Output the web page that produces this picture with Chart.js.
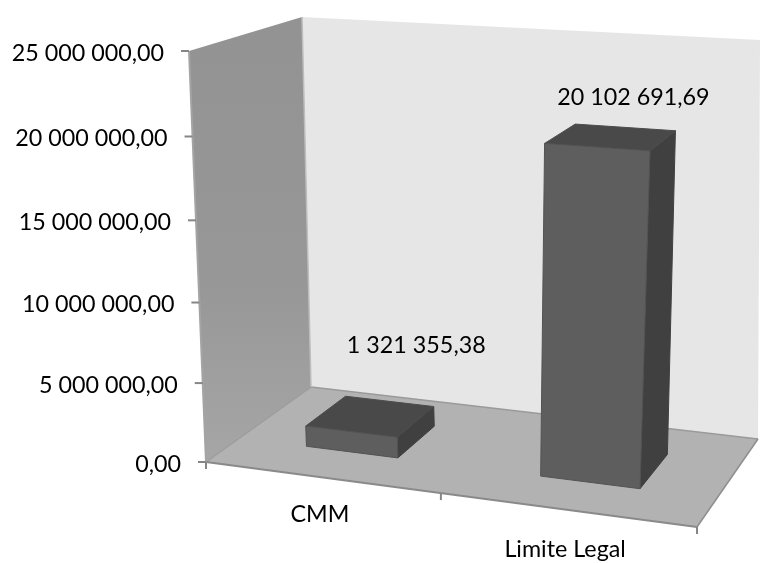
<!DOCTYPE html>
<html>
<head>
<meta charset="utf-8">
<style>html,body{margin:0;padding:0;background:#fff}canvas{display:block}</style>
<script src="https://cdn.jsdelivr.net/npm/chart.js@4"></script>
</head>
<body>
<canvas id="c" width="760" height="563"></canvas>
<script>
// Chart values
const categories = ["CMM", "Limite Legal"];
const values = [1321355.38, 20102691.69];
const valueLabels = ["1 321 355,38", "20 102 691,69"];
const tickValues = [0, 5000000, 10000000, 15000000, 20000000, 25000000];
const tickLabels = ["0,00", "5 000 000,00", "10 000 000,00", "15 000 000,00", "20 000 000,00", "25 000 000,00"];

// Box corners of the 3D plot: floor and ceiling, front/back, left/right
const floorQuad = [[206,462],[697,527],[758,439],[311,387]];
const topQuad   = [[189,51],[707,83],[760,40],[302,17]];
const depthNear = 0.3, depthFar = 0.7;
const FONT = '23.3px Lato, "Open Sans", sans-serif';
let area = null;

// Projective map of the unit square onto a quad
function squareToQuad(q){
  const [p0,p1,p2,p3] = q;
  const dx1=p1[0]-p2[0], dx2=p3[0]-p2[0], sx=p0[0]-p1[0]+p2[0]-p3[0];
  const dy1=p1[1]-p2[1], dy2=p3[1]-p2[1], sy=p0[1]-p1[1]+p2[1]-p3[1];
  const den=dx1*dy2-dx2*dy1;
  const g=(sx*dy2-dx2*sy)/den, h=(dx1*sy-sx*dy1)/den;
  const a=p1[0]-p0[0]+g*p1[0], b=p3[0]-p0[0]+h*p3[0];
  const d=p1[1]-p0[1]+g*p1[1], e=p3[1]-p0[1]+h*p3[1];
  return (u,w)=>{const k=g*u+h*w+1;return [(a*u+b*w+p0[0])/k,(d*u+e*w+p0[1])/k];};
}
const onFloor = squareToQuad(floorQuad), onTop = squareToQuad(topQuad);

// u: across the categories, v: height 0..1, w: depth
function project(u,v,w){
  // the right half of the ceiling fans outward, so tall bars lean to the right
  const ut = u>0.5 ? u+0.4*(u-0.5)*(1-u) : u;
  const f=onFloor(u,w), t=onTop(ut,w), s=v*(0.95+0.05*v);
  return [f[0]+(t[0]-f[0])*s, f[1]+(t[1]-f[1])*s];
}
function poly(ctx,pts,fill,stroke,lw){
  ctx.beginPath();
  pts.forEach((p,i)=>i?ctx.lineTo(p[0],p[1]):ctx.moveTo(p[0],p[1]));
  ctx.closePath();
  if(fill){ctx.fillStyle=fill;ctx.fill();}
  if(stroke){ctx.strokeStyle=stroke;ctx.lineWidth=lw||1;ctx.stroke();}
}
function line(ctx,a,b,color,lw){
  ctx.beginPath();ctx.moveTo(a[0],a[1]);ctx.lineTo(b[0],b[1]);
  ctx.strokeStyle=color;ctx.lineWidth=lw;ctx.stroke();
}

// Bars are drawn as cuboids from the geometry the bar controller computed
Chart.BarElement.prototype.draw = function(ctx){
  const W=area.right-area.left, H=area.bottom-area.top;
  const u0=(this.x-this.width/2-area.left)/W, u1=(this.x+this.width/2-area.left)/W;
  const v1=(area.bottom-this.y)/H, v0=(area.bottom-this.base)/H;
  const P=project;
  ctx.save();
  ctx.lineJoin='round';
  poly(ctx,[P(u1,v0,depthNear),P(u1,v0,depthFar),P(u1,v1,depthFar),P(u1,v1,depthNear)],'#404040','#404040',1);
  poly(ctx,[P(u0,v1,depthNear),P(u1,v1,depthNear),P(u1,v1,depthFar),P(u0,v1,depthFar)],'#494949','#4c4c4c',1);
  poly(ctx,[P(u0,v0,depthNear),P(u1,v0,depthNear),P(u1,v1,depthNear),P(u0,v1,depthNear)],'#5e5e5e','#535353',1);
  ctx.restore();
};

// Walls and floor sit behind the bars
const roomPlugin = {
  id:'room',
  beforeDatasetsDraw(chart){
    const ctx=chart.ctx;
    area=chart.chartArea;
    ctx.save();
    poly(ctx,[project(0,0,1),project(1,0,1),project(1,1,1),project(0,1,1)],'#e6e6e6');
    const wall=ctx.createLinearGradient(0,20,0,460);
    wall.addColorStop(0,'#939393');wall.addColorStop(0.6,'#979797');wall.addColorStop(1,'#a6a6a6');
    poly(ctx,[project(0,0,0),project(0,0,1),project(0,1,1),project(0,1,0)],wall);
    poly(ctx,[project(0,0,0),project(1,0,0),project(1,0,1),project(0,0,1)],'#b2b2b2');
    line(ctx,project(0,0,1),project(1,0,1),'#9a9a9a',1.5);
    line(ctx,project(0,0,1),project(0,1,1),'#bdbdbd',1.5);
    line(ctx,project(0,0,0),project(0,0,1),'#9c9c9c',1.5);
    line(ctx,project(1,0,0),project(1,0,1),'#8e8e8e',1.5);
    line(ctx,project(0,0,0),project(1,0,0),'#8a8a8a',2);
    line(ctx,project(0,0,0),project(0,1,0),'#a4a4a4',2);
    ctx.restore();
  },
  afterDatasetsDraw(chart){
    const ctx=chart.ctx, W=area.right-area.left, H=area.bottom-area.top;
    const xs=chart.scales.x, ys=chart.scales.y;
    ctx.save();
    ctx.font=FONT;ctx.fillStyle='#000';ctx.textBaseline='middle';

    // Value axis: ticks follow the slanted front edge
    ctx.textAlign='right';
    tickValues.forEach((val,i)=>{
      const p=project(0,(area.bottom-ys.getPixelForValue(val))/H,0);
      line(ctx,[p[0]-8,p[1]],[p[0],p[1]],'#868686',2);
      ctx.fillText(tickLabels[i],p[0]-25,p[1]+2);
    });

    // Category axis: ticks between categories, labels below the front edge
    const step=W/categories.length;
    for(let i=0;i<=categories.length;i++){
      const p=project(i*step/W,0,0);
      line(ctx,p,[p[0],p[1]+7],'#868686',2);
    }
    ctx.textAlign='center';
    const catOffset=[[-1,37],[-1,40]], valOffset=[[27,-56],[7,-30]];
    categories.forEach((name,i)=>{
      const u=(xs.getPixelForValue(i)-area.left)/W;
      const p=project(u,0,0);
      ctx.fillText(name,p[0]+catOffset[i][0],p[1]+catOffset[i][1]);
      const v=(area.bottom-ys.getPixelForValue(values[i]))/H;
      const t=project(u,v,depthFar);
      ctx.fillText(valueLabels[i],t[0]+valOffset[i][0],t[1]+valOffset[i][1]);
    });
    ctx.restore();
  }
};

new Chart(document.getElementById('c'),{
  type:'bar',
  data:{labels:categories,datasets:[{data:values,backgroundColor:'#5e5e5e',barPercentage:0.4,categoryPercentage:1,clip:false}]},
  options:{
    responsive:false,animation:false,
    layout:{padding:{left:206,right:63,top:51,bottom:103}},
    plugins:{legend:{display:false},tooltip:{enabled:false}},
    scales:{
      x:{display:false},
      y:{display:false,min:0,max:25000000,ticks:{stepSize:5000000}}
    }
  },
  plugins:[roomPlugin]
});
</script>
</body>
</html>
